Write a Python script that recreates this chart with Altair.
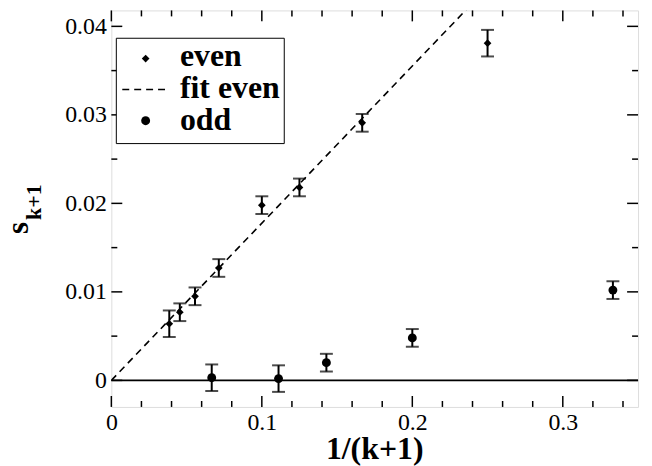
import altair as alt
import pandas as pd

# ---- data ----
even_x = [0.0385, 0.0455, 0.0556, 0.0714, 0.1000, 0.1250, 0.1667, 0.2500]
even_y = [0.0064, 0.0077, 0.0095, 0.0127, 0.0198, 0.0218, 0.0291, 0.0381]
even_err = [0.0015, 0.0010, 0.0010, 0.0010, 0.0010, 0.0010, 0.0010, 0.0015]

odd_x = [0.0667, 0.1111, 0.1429, 0.2000, 0.3333]
odd_y = [0.0003, 0.0002, 0.0020, 0.0048, 0.0102]
odd_err = [0.0015, 0.0015, 0.0010, 0.0010, 0.0010]

fit_x = [0.0, 0.25]
fit_y = [0.0, 0.0444]

x_major = [0.0, 0.1, 0.2, 0.3]
x_minor = [0.02, 0.04, 0.06, 0.08, 0.12, 0.14, 0.16, 0.18, 0.22, 0.24, 0.26, 0.28, 0.32, 0.34]
y_major = [0.0, 0.01, 0.02, 0.03, 0.04]
y_minor = [0.005, 0.015, 0.025, 0.035]

legend_labels = ["even", "fit even", "odd"]
x_title = "1/(k+1)"
y_title_main = "s"
y_title_sub = "k+1"

W, H = 530, 399
FONT = "'Liberation Serif', 'Times New Roman', 'DejaVu Serif', serif"

even = pd.DataFrame({"x": even_x, "y": even_y, "err": even_err})
even["lo"] = even["y"] - even["err"]
even["hi"] = even["y"] + even["err"]
odd = pd.DataFrame({"x": odd_x, "y": odd_y, "err": odd_err})
odd["lo"] = odd["y"] - odd["err"]
odd["hi"] = odd["y"] + odd["err"]
fit = pd.DataFrame({"x": fit_x, "y": fit_y})

xs = alt.Scale(domain=[0, 0.35], nice=False, zero=False)
ys = alt.Scale(domain=[-0.003, 0.0418], nice=False, zero=False)

xax = alt.Axis(values=x_major, format="~g", ticks=False, domain=False, grid=False,
               labelFont=FONT, labelFontSize=24, labelColor="black", labelPadding=4,
               labelFlush=False, title=None)
yax = alt.Axis(values=y_major, format="~g", ticks=False, domain=False, grid=False,
               labelFont=FONT, labelFontSize=24, labelColor="black", labelPadding=5,
               labelFlush=False, title=None)

X = lambda: alt.X("x:Q", scale=xs, axis=xax)
Y = lambda: alt.Y("y:Q", scale=ys, axis=yax)

one = pd.DataFrame({"a": [0]})

zero_line = alt.Chart(pd.DataFrame({"y": [0.0]})).mark_rule(color="black", strokeWidth=2).encode(
    y=alt.Y("y:Q", scale=ys, axis=yax), x=alt.value(0), x2=alt.value(W))

fit_line = alt.Chart(fit).mark_line(color="black", strokeWidth=1.6, strokeDash=[7, 5], clip=True).encode(
    x=X(), y=Y())

def errbars(df):
    base = alt.Chart(df)
    stem = base.mark_rule(color="black", strokeWidth=2).encode(
        x=alt.X("x:Q", scale=xs, axis=xax), y=alt.Y("lo:Q", scale=ys, axis=yax), y2="hi:Q")
    cap_lo = base.mark_tick(color="black", orient="horizontal", size=13, thickness=2).encode(
        x=alt.X("x:Q", scale=xs, axis=xax), y=alt.Y("lo:Q", scale=ys, axis=yax))
    cap_hi = base.mark_tick(color="black", orient="horizontal", size=13, thickness=2).encode(
        x=alt.X("x:Q", scale=xs, axis=xax), y=alt.Y("hi:Q", scale=ys, axis=yax))
    return [stem, cap_lo, cap_hi]

even_pts = alt.Chart(even).mark_point(shape="diamond", filled=True, color="black", size=60, opacity=1).encode(
    x=X(), y=Y())
odd_pts = alt.Chart(odd).mark_point(shape="circle", filled=True, color="black", size=80, opacity=1).encode(
    x=X(), y=Y())

# inward ticks on all four sides
def tick_layer(vals, axis, length):
    d = pd.DataFrame({"v": vals})
    c = alt.Chart(d)
    if axis == "x":
        f = alt.X("v:Q", scale=xs, axis=xax)
        return [c.mark_rule(color="black", strokeWidth=1.5).encode(x=f, y=alt.value(H), y2=alt.value(H - length)),
                c.mark_rule(color="black", strokeWidth=1.5).encode(x=f, y=alt.value(0), y2=alt.value(length))]
    f = alt.Y("v:Q", scale=ys, axis=yax)
    return [c.mark_rule(color="black", strokeWidth=1.5).encode(y=f, x=alt.value(0), x2=alt.value(length)),
            c.mark_rule(color="black", strokeWidth=1.5).encode(y=f, x=alt.value(W), x2=alt.value(W - length))]

ticks = (tick_layer(x_major, "x", 11) + tick_layer(x_minor, "x", 6) +
         tick_layer(y_major, "y", 11) + tick_layer(y_minor, "y", 6))

# legend (manual)
leg_box = alt.Chart(one).mark_rect(fill="white", stroke="black", strokeWidth=1).encode(
    x=alt.value(5), x2=alt.value(174), y=alt.value(28), y2=alt.value(134))
leg_diamond = alt.Chart(one).mark_point(shape="diamond", filled=True, color="black", size=60, opacity=1).encode(
    x=alt.value(34.5), y=alt.value(48.5))
leg_dash = alt.Chart(one).mark_rule(color="black", strokeWidth=1.6, strokeDash=[7, 5]).encode(
    x=alt.value(11), x2=alt.value(57), y=alt.value(79.5))
leg_circle = alt.Chart(one).mark_point(shape="circle", filled=True, color="black", size=80, opacity=1).encode(
    x=alt.value(34.5), y=alt.value(111))
leg_texts = []
for lab, yy in zip(legend_labels, [55.5, 88, 120]):
    leg_texts.append(alt.Chart(one).mark_text(text=lab, font=FONT, fontSize=32, fontWeight="bold",
                                              align="left", baseline="alphabetic", color="black").encode(
        x=alt.value(69), y=alt.value(yy)))

# axis titles
xt = alt.Chart(one).mark_text(text=x_title, font=FONT, fontSize=32, fontWeight="bold",
                              align="center", baseline="alphabetic", color="black").encode(
    x=alt.value(W / 2), y=alt.value(451))
yt1 = alt.Chart(one).mark_text(text=y_title_main, font=FONT, fontSize=31, fontWeight="bold", angle=270,
                               align="center", baseline="alphabetic", color="black").encode(
    x=alt.value(-84), y=alt.value(219))
yt2 = alt.Chart(one).mark_text(text=y_title_sub, font=FONT, fontSize=22, fontWeight="bold", angle=270,
                               align="center", baseline="alphabetic", color="black").encode(
    x=alt.value(-71), y=alt.value(193))

layers = ([zero_line, fit_line] + errbars(even) + errbars(odd) + [even_pts, odd_pts] + ticks +
          [leg_box, leg_diamond, leg_dash, leg_circle] + leg_texts + [xt, yt1, yt2])

chart = alt.layer(*layers).properties(
    width=W, height=H,
    autosize=alt.AutoSizeParams(type="none"),
    padding={"left": 104, "top": 1, "right": 6, "bottom": 58},
).configure_view(stroke="black", strokeWidth=2).configure(background="white")

chart.save("out.html", embed_options={"renderer": "svg", "actions": False})
